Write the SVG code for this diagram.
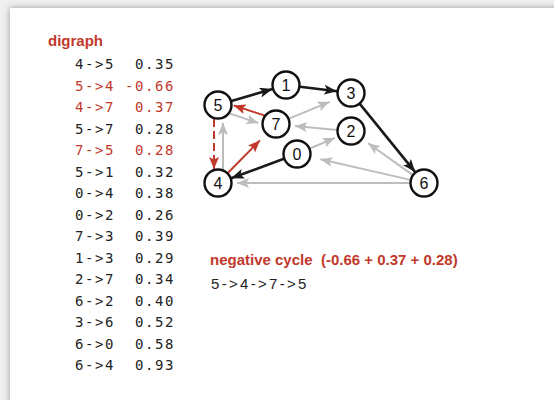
<svg xmlns="http://www.w3.org/2000/svg" width="554" height="400" viewBox="0 0 554 400">
  <style>
    .mono { font-family: "DejaVu Sans Mono", "Liberation Mono", monospace; font-size: 14px; letter-spacing: 1.57px; fill: #222; white-space: pre; }
    .mono.red { fill: #c1392b; }
    .title { font-family: "Liberation Sans", Arial, sans-serif; font-weight: bold; font-size: 15px; fill: #c1392b; white-space: pre; }
    .plain { font-family: "Liberation Sans", Arial, sans-serif; font-size: 15px; fill: #222; }
    .node circle { fill: #fff; stroke: #111; stroke-width: 2.4; }
    .node text { font-family: "Liberation Sans", Arial, sans-serif; font-size: 16px; fill: #111; text-anchor: middle; }
    .e-black { stroke: #1a1a1a; stroke-width: 2.6; fill: none; marker-end: url(#ah-black); }
    .e-gray { stroke: #bdbdbd; stroke-width: 2; fill: none; marker-end: url(#ah-gray); }
    .e-red { stroke: #c1392b; stroke-width: 2; fill: none; marker-end: url(#ah-red); }
    .dash { stroke-dasharray: 8 4; }
  </style>
  <defs>
    <filter id="shadow" x="-10%" y="-10%" width="120%" height="120%">
      <feGaussianBlur stdDeviation="3"/>
    </filter>
    <marker id="ah-black" markerUnits="userSpaceOnUse" viewBox="0 0 13 10" refX="13" refY="5" markerWidth="13" markerHeight="10" orient="auto">
      <path d="M0,0 L13,5 L0,10 L3,5 z" fill="#1a1a1a"/>
    </marker>
    <marker id="ah-gray" markerUnits="userSpaceOnUse" viewBox="0 0 12 10" refX="12" refY="5" markerWidth="12" markerHeight="10" orient="auto">
      <path d="M0,0 L12,5 L0,10 L2.5,5 z" fill="#bdbdbd"/>
    </marker>
    <marker id="ah-red" markerUnits="userSpaceOnUse" viewBox="0 0 12 10" refX="12" refY="5" markerWidth="12" markerHeight="10" orient="auto">
      <path d="M0,0 L12,5 L0,10 L2.5,5 z" fill="#c1392b"/>
    </marker>
  </defs>

  <!-- page backdrop and white sheet -->
  <rect x="0" y="0" width="554" height="400" fill="#efefef"/>
  <rect x="10" y="8" width="560" height="420" fill="#9a9a9a" filter="url(#shadow)"/>
  <rect x="10" y="8" width="560" height="420" fill="#ffffff"/>

  <!-- edge list -->
  <text class="title" x="48" y="46">digraph</text>
  <g id="edge-list" xml:space="preserve">
    <text class="mono" x="75" y="69">4-&gt;5  0.35</text>
    <text class="mono red" x="75" y="90.5">5-&gt;4 -0.66</text>
    <text class="mono red" x="75" y="112">4-&gt;7  0.37</text>
    <text class="mono" x="75" y="133.5">5-&gt;7  0.28</text>
    <text class="mono red" x="75" y="155">7-&gt;5  0.28</text>
    <text class="mono" x="75" y="176.5">5-&gt;1  0.32</text>
    <text class="mono" x="75" y="198">0-&gt;4  0.38</text>
    <text class="mono" x="75" y="219.5">0-&gt;2  0.26</text>
    <text class="mono" x="75" y="241">7-&gt;3  0.39</text>
    <text class="mono" x="75" y="262.5">1-&gt;3  0.29</text>
    <text class="mono" x="75" y="284">2-&gt;7  0.34</text>
    <text class="mono" x="75" y="305.5">6-&gt;2  0.40</text>
    <text class="mono" x="75" y="327">3-&gt;6  0.52</text>
    <text class="mono" x="75" y="348.5">6-&gt;0  0.58</text>
    <text class="mono" x="75" y="370">6-&gt;4  0.93</text>
  </g>

  <!-- connectors -->
  <g id="edges">
    <line class="e-gray" x1="223" y1="169.5" x2="223" y2="123"/>
    <line class="e-gray" x1="229.2" y1="113.4" x2="258.4" y2="123"/>
    <line class="e-gray" x1="288.9" y1="118.6" x2="329.7" y2="101.8"/>
    <line class="e-gray" x1="337" y1="129.9" x2="295" y2="126"/>
    <line class="e-gray" x1="309.9" y1="148.5" x2="334.9" y2="137.9"/>
    <line class="e-gray" x1="412.6" y1="174.9" x2="368.1" y2="143.2"/>
    <line class="e-gray" x1="410.4" y1="179.9" x2="320.4" y2="159.3"/>
    <line class="e-gray" x1="410" y1="183" x2="237" y2="183"/>

    <line class="e-black" x1="231.4" y1="101" x2="272.6" y2="89"/>
    <line class="e-black" x1="299.9" y1="86.7" x2="337.1" y2="91.3"/>
    <line class="e-black" x1="359.8" y1="103.9" x2="415.2" y2="172.1"/>
    <line class="e-black" x1="283.9" y1="158.8" x2="231.1" y2="178.2"/>

    <line class="e-red" x1="264.8" y1="115.6" x2="233.7" y2="105.4"/>
    <line class="e-red" x1="227.8" y1="173" x2="259.9" y2="140.4"/>
    <line class="e-red dash" x1="214" y1="119" x2="214" y2="169"/>
  </g>

  <!-- vertices -->
  <g id="node-0" class="node"><circle cx="297" cy="154" r="13.5"/><text x="297" y="159.7">0</text></g>
  <g id="node-1" class="node"><circle cx="286" cy="85" r="13.5"/><text x="286" y="90.7">1</text></g>
  <g id="node-2" class="node"><circle cx="351" cy="131" r="13.5"/><text x="351" y="136.7">2</text></g>
  <g id="node-3" class="node"><circle cx="351" cy="93" r="13.5"/><text x="351" y="98.7">3</text></g>
  <g id="node-4" class="node"><circle cx="218" cy="183" r="13.5"/><text x="218" y="188.7">4</text></g>
  <g id="node-5" class="node"><circle cx="218" cy="105" r="13.5"/><text x="218" y="110.7">5</text></g>
  <g id="node-6" class="node"><circle cx="424" cy="183" r="13.5"/><text x="424" y="188.7">6</text></g>
  <g id="node-7" class="node"><circle cx="276" cy="124" r="13.5"/><text x="276" y="129.7">7</text></g>

  <!-- cycle annotation -->
  <text class="title" x="210" y="265" xml:space="preserve">negative cycle  (-0.66 + 0.37 + 0.28)</text>
  <text class="plain" x="211" y="289" letter-spacing="2.3">5-&gt;4-&gt;7-&gt;5</text>
</svg>
